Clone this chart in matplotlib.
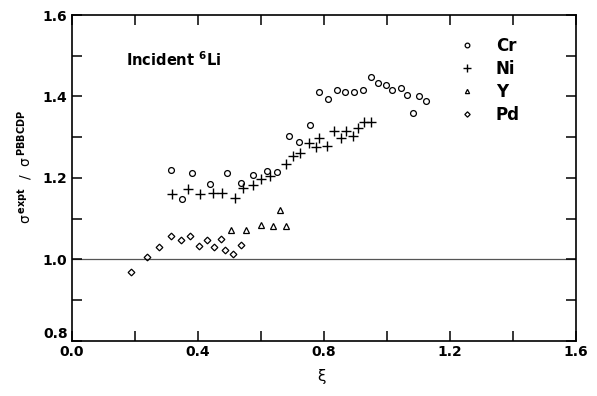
import matplotlib
matplotlib.use("Agg")
import matplotlib.pyplot as plt

# cross-section ratio vs xi for incident 6Li on four targets
cr_xi = [0.314, 0.349, 0.383, 0.438, 0.492, 0.537, 0.577, 0.620, 0.653, 0.690,
         0.721, 0.756, 0.785, 0.815, 0.843, 0.868, 0.895, 0.924, 0.949, 0.973,
         0.997, 1.018, 1.046, 1.064, 1.083, 1.103, 1.126]
cr_ratio = [1.220, 1.149, 1.212, 1.184, 1.212, 1.187, 1.206, 1.217, 1.214, 1.302,
            1.289, 1.329, 1.412, 1.393, 1.416, 1.412, 1.412, 1.416, 1.448, 1.433,
            1.429, 1.416, 1.420, 1.404, 1.360, 1.400, 1.388]

ni_xi = [0.317, 0.368, 0.406, 0.450, 0.478, 0.519, 0.545, 0.574, 0.601, 0.630,
         0.680, 0.701, 0.725, 0.754, 0.776, 0.786, 0.811, 0.833, 0.854, 0.871,
         0.892, 0.910, 0.928, 0.949]
ni_ratio = [1.160, 1.173, 1.161, 1.162, 1.164, 1.151, 1.174, 1.183, 1.197, 1.204,
            1.233, 1.253, 1.262, 1.286, 1.276, 1.298, 1.279, 1.314, 1.297, 1.316,
            1.304, 1.323, 1.337, 1.337]

y_xi = [0.506, 0.552, 0.602, 0.640, 0.661, 0.680]
y_ratio = [1.071, 1.071, 1.083, 1.081, 1.120, 1.081]

pd_xi = [0.188, 0.238, 0.277, 0.314, 0.347, 0.377, 0.405, 0.429, 0.452, 0.473,
         0.487, 0.511, 0.537]
pd_ratio = [0.968, 1.006, 1.029, 1.057, 1.047, 1.057, 1.032, 1.048, 1.031, 1.051,
            1.024, 1.012, 1.035]

plt.rcParams["font.family"] = ["DejaVu Sans"]

fig = plt.figure(figsize=(5.97, 3.96), dpi=100)
ax = fig.add_axes([0.1201, 0.1396, 0.8442, 0.8225])

ax.axhline(1.0, color="#555555", linewidth=0.9, zorder=1)

kw = dict(linestyle="none", color="black", markerfacecolor="none", zorder=3)
ax.plot(cr_xi, cr_ratio, marker="o", markersize=4.2, markeredgewidth=0.9, label="Cr", **kw)
ax.plot(ni_xi, ni_ratio, marker="+", markersize=7, markeredgewidth=1.0, label="Ni", **kw)
ax.plot(y_xi, y_ratio, marker="^", markersize=3.8, markeredgewidth=0.9, label="Y", **kw)
ax.plot(pd_xi, pd_ratio, marker="D", markersize=3.4, markeredgewidth=0.9, label="Pd", **kw)

ax.set_xlim(0.0, 1.6)
ax.set_ylim(0.8, 1.6)
ax.set_xticks([0.0, 0.2, 0.4, 0.6, 0.8, 1.0, 1.2, 1.4, 1.6])
ax.set_xticklabels(["0.0", "", "0.4", "", "0.8", "", "1.2", "", "1.6"])
ax.set_yticks([0.8, 0.9, 1.0, 1.1, 1.2, 1.3, 1.4, 1.5, 1.6])
ax.set_yticklabels(["0.8", "", "1.0", "", "1.2", "", "1.4", "", "1.6"])
ax.tick_params(direction="in", length=7, width=1.1, top=True, right=True,
               labelsize=10, pad=3)
for lab in ax.get_xticklabels() + ax.get_yticklabels():
    lab.set_fontweight("bold")
# lift the bottom y label so it sits beside the 0.0 on the x axis
ax.get_yticklabels()[0].set_verticalalignment("bottom")
for sp in ax.spines.values():
    sp.set_linewidth(1.2)

ax.text(0.107, 0.862, r"Incident $^{\mathbf{6}}$Li", transform=ax.transAxes,
        fontsize=10.5, fontweight="bold", ha="left", va="center")

fig.text(25 / 597, 1 - 167 / 396,
         r"σ$^{\,\mathbf{expt}}$  /  σ$^{\,\mathbf{PBBCDP}}$",
         rotation=90, fontsize=10, ha="center", va="center")
fig.text(322 / 597, 1 - 377 / 396, "ξ", fontsize=11, ha="center", va="center")

leg = ax.legend(loc="upper left", bbox_to_anchor=(459 / 597, 1 - 37 / 396),
                bbox_transform=fig.transFigure, frameon=False, numpoints=1,
                markerscale=0.8, handlelength=1.0, handletextpad=1.2,
                labelspacing=0.3, borderpad=0, borderaxespad=0,
                prop={"weight": "bold", "size": 12})

fig.savefig("out.png", dpi=100)
